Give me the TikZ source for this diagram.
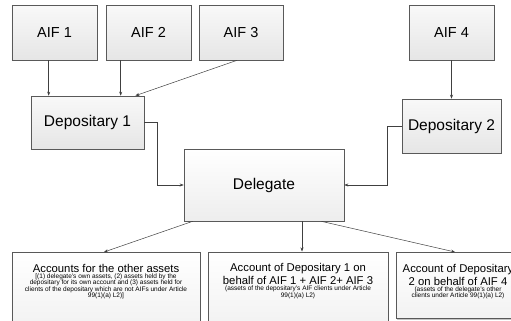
\documentclass[tikz,border=0pt]{standalone}
\usepackage{fontspec}
\setmainfont{Liberation Sans}
\usetikzlibrary{positioning, arrows.meta, shadows}

% text block of an account box: width, height, title, note
\newcommand{\acctbody}[4]{\parbox[c][#2][t]{#1}{\centering\vspace*{12bp}%
    {\fontsize{11.3bp}{12.8bp}\selectfont #3\par}%
    {\fontsize{6.5bp}{6.2bp}\selectfont #4\par}}}

\begin{document}
\begin{tikzpicture}[x=1bp, y=-1bp,
        % Node styles
        box/.style={draw=black!65, line width=0.6bp, top color=gray!5, bottom color=gray!20,
            drop shadow={shadow xshift=1.2bp, shadow yshift=-1.2bp, fill=black!45, opacity=.5}},
        aif/.style={box, minimum width=85bp, minimum height=55bp, font=\fontsize{14.5bp}{17bp}\selectfont},
        depo/.style={box, minimum height=53bp, font=\fontsize{15.5bp}{18bp}\selectfont},
        deleg/.style={box, top color=white, bottom color=gray!14, minimum width=160bp, minimum height=72bp,
            font=\fontsize{15.5bp}{18bp}\selectfont},
        acct/.style={box, top color=white, bottom color=gray!10, inner xsep=2bp, inner ysep=0pt, anchor=north},
        % Arrow styles
        feed/.style={-{Stealth[length=4bp, width=3bp]}, draw=black!75, line width=0.5bp},
    ]
    \useasboundingbox (0,0) rectangle (511,320);
    \clip (0,0) rectangle (511,320);

    % Funds
    \node[aif] (aif1) at (54.5,32.5) {AIF 1};
    \node[aif] (aif2) at (148.5,32.5) {AIF 2};
    \node[aif, minimum width=84bp] (aif3) at (241,32.5) {AIF 3};
    \node[aif] (aif4) at (451.5,32.5) {AIF 4};

    % Depositaries and delegate
    \node[depo, minimum width=113bp] (dep1) at (87.5,122.5) {Depositary 1};
    \node[depo, minimum width=99bp, minimum height=54bp] (dep2) at (451.5,126) {Depositary 2};
    \node[deleg] (deleg) at (264,185) {Delegate};

    % Accounts
    \node[acct] (other) at (106,252) {\acctbody{184bp}{72bp}{Accounts for the other assets}%
        {[(1) delegate's own assets, (2) assets held by the\\
        depositary for its own account and (3) assets held for\\
        clients of the depositary which are not AIFs under Article\\
        99(1)(a) L2)]}};
    \node[acct] (acct1) at (298,251.5) {\acctbody{176bp}{72bp}{Account of Depositary 1 on\\
        behalf of AIF 1 + AIF 2+ AIF 3}%
        {(assets of the depositary's AIF clients under Article\\
        99(1)(a) L2)}};
    \node[acct] (acct2) at (458,252) {\acctbody{120bp}{66bp}{Account of Depositary\\
        2 on behalf of AIF 4}%
        {(assets of the delegate's other\\
        clients under Article 99(1)(a) L2)}};

    % Fund to depositary arrows
    \coordinate (in1) at ([xshift=18bp]dep1.north west);
    \coordinate (in2) at ([xshift=90bp]dep1.north west);
    \draw[feed] (aif1.south -| in1) -- (in1);
    \draw[feed] (aif2.south -| in2) -- (in2);
    \draw[feed] ([xshift=-4bp]aif3.south) -- ([xshift=-9bp]dep1.north east);
    \draw[feed] (aif4.south) -- (dep2.north);

    % Depositary to delegate arrows
    \draw[feed] (dep1.east) -- ++(13,0) |- (deleg.west);
    \draw[feed] (dep2.west) -- ++(-14,0) |- (deleg.east);

    % Delegate to account arrows
    \coordinate (out) at ([xshift=38bp]deleg.south);
    \draw[feed] ([xshift=9bp]deleg.south west) -- ([xshift=-2bp]other.north);
    \draw[feed] (out) -- (out |- acct1.north);
    \draw[feed] ([xshift=-23bp]deleg.south east) -- ([xshift=-3bp]acct2.north);
\end{tikzpicture}
\end{document}
